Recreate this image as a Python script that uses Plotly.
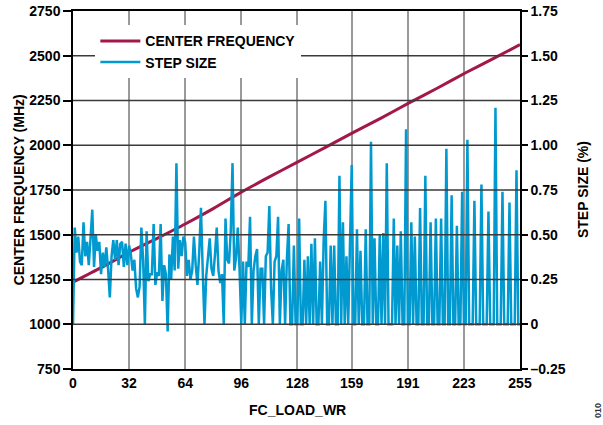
import plotly.graph_objects as go

# ---------------- data ----------------
fc_load_wr = list(range(256))

step_size_pct = [
    0.00, 0.54, 0.40, 0.49, 0.35, 0.33, 0.57, 0.38, 0.46, 0.33,
    0.48, 0.64, 0.32, 0.50, 0.41, 0.46, 0.28, 0.40, 0.32, 0.43,
    0.31, 0.15, 0.38, 0.47, 0.36, 0.47, 0.33, 0.45, 0.46, 0.32,
    0.45, 0.33, 0.44, 0.39, 0.30, 0.36, 0.20, 0.15, 0.21, 0.54,
    0.36, 0.00, 0.52, 0.24, 0.28, 0.28, 0.56, 0.22, 0.29, 0.27,
    0.56, 0.13, 0.33, 0.28, -0.04, 0.39, 0.25, 0.49, 0.30, 0.90,
    0.31, 0.47, 0.38, 0.49, 0.46, 0.27, 0.36, 0.25, 0.30, 0.49,
    0.33, 0.22, 0.40, 0.65, 0.30, 0.00, 0.27, 0.36, 0.48, 0.31,
    0.27, 0.39, 0.54, 0.30, 0.23, 0.28, 0.00, 0.59, 0.36, 0.34,
    0.52, 0.90, 0.30, 0.37, 0.54, 0.31, 0.00, 0.35, 0.00, 0.35,
    0.32, 0.60, 0.00, 0.30, 0.38, 0.42, 0.00, 0.31, 0.31, 0.00,
    0.38, 0.40, 0.66, 0.20, 0.00, 0.35, 0.38, 0.60, 0.00, 0.30,
    0.36, 0.00, 0.36, 0.56, 0.00, 0.00, 0.44, 0.00, 0.00, 0.59,
    0.00, 0.00, 0.36, 0.00, 0.38, 0.00, 0.45, 0.00, 0.48, 0.00,
    0.00, 0.35, 0.00, 0.47, 0.69, 0.00, 0.00, 0.44, 0.00, 0.44,
    0.00, 0.00, 0.83, 0.00, 0.57, 0.00, 0.38, 0.00, 0.46, 0.89,
    0.00, 0.00, 0.53, 0.00, 0.41, 0.00, 0.00, 0.53, 0.00, 0.00,
    1.02, 0.00, 0.48, 0.00, 0.00, 0.50, 0.00, 0.51, 0.00, 0.90,
    0.00, 0.00, 0.00, 0.59, 0.00, 0.44, 0.00, 0.52, 0.00, 0.00,
    1.09, 0.00, 0.00, 0.57, 0.00, 0.49, 0.00, 0.00, 0.65, 0.00,
    0.00, 0.83, 0.00, 0.00, 0.57, 0.00, 0.00, 0.59, 0.00, 0.00,
    0.59, 0.00, 0.00, 0.98, 0.00, 0.00, 0.72, 0.00, 0.00, 0.55,
    0.00, 0.00, 0.74, 0.00, 0.00, 1.03, 0.00, 0.00, 0.00, 0.69,
    0.00, 0.00, 0.00, 0.78, 0.00, 0.00, 0.00, 0.63, 0.00, 0.00,
    0.00, 1.21, 0.00, 0.00, 0.00, 0.74, 0.00, 0.00, 0.00, 0.68,
    0.00, 0.00, 0.00, 0.86, 0.00, 0.00,
]

cf_code = [0, 16, 32, 48, 64, 80, 96, 112, 128, 144, 160, 176, 192, 208, 224, 240, 255]
cf_mhz = [1235, 1316, 1402, 1480, 1560, 1646, 1738, 1823, 1906, 1988,
          2072, 2153, 2238, 2320, 2405, 2485, 2562]

x_tickvals = [0, 32, 64, 96, 128, 159, 191, 223, 255]
x_ticktext = ["0", "32", "64", "96", "128", "159", "191", "223", "255"]
y_tickvals = [750, 1000, 1250, 1500, 1750, 2000, 2250, 2500, 2750]
y2_tickvals = [-0.25, 0, 0.25, 0.50, 0.75, 1.00, 1.25, 1.50, 1.75]
y2_ticktext = ["\u20130.25", "0", "0.25", "0.50", "0.75", "1.00", "1.25", "1.50", "1.75"]

# ---------------- styling ----------------
RED = "#A3184A"
BLUE = "#009AD0"
FONT = "Liberation Sans, Arial, sans-serif"
bold = dict(family=FONT, size=14, color="black", weight=700)

fig = go.Figure()
fig.add_trace(go.Scatter(x=cf_code, y=cf_mhz, name="CENTER FREQUENCY", mode="lines",
                         line=dict(color=RED, width=3, shape="spline", smoothing=0.6),
                         yaxis="y"))
fig.add_trace(go.Scatter(x=fc_load_wr, y=step_size_pct, name="STEP SIZE", mode="lines",
                         line=dict(color=BLUE, width=2.5), yaxis="y2"))

shapes = []
for v in y_tickvals[1:-1]:
    shapes.append(dict(type="line", xref="paper", x0=0, x1=1, yref="y", y0=v, y1=v,
                       line=dict(color="#3a3a3a", width=1.5), layer="above"))

fig.update_layout(
    width=603, height=425,
    margin=dict(l=73, r=83, t=11, b=56, autoexpand=False),
    paper_bgcolor="white", plot_bgcolor="white",
    font=bold,
    showlegend=True,
    legend=dict(x=0.05, y=0.96, xanchor="left", yanchor="top",
                bgcolor="white", borderwidth=0, font=bold,
                itemwidth=40, tracegroupgap=0),
    xaxis=dict(range=[0, 255], tickvals=x_tickvals, ticktext=x_ticktext,
               showgrid=True, gridcolor="#9a9a9a", gridwidth=1.5,
               showline=True, linecolor="black", linewidth=1.5, mirror=True,
               ticks="", tickfont=bold, zeroline=False, automargin=False),
    yaxis=dict(range=[750, 2750], tickvals=y_tickvals, showgrid=False,
               showline=True, linecolor="black", linewidth=1.5,
               ticks="outside", ticklen=8, tickcolor="black", tickwidth=1.5,
               tickfont=bold, zeroline=False, automargin=False),
    yaxis2=dict(range=[-0.25, 1.75], tickvals=y2_tickvals, ticktext=y2_ticktext,
                overlaying="y", side="right", showgrid=False,
                showline=True, linecolor="black", linewidth=1.5,
                ticks="outside", ticklen=6, tickcolor="black", tickwidth=1.5,
                tickfont=bold, zeroline=False, automargin=False),
    shapes=shapes,
    annotations=[
        dict(text="CENTER FREQUENCY (MHz)", xref="paper", yref="paper", x=-0.12, y=0.5,
             textangle=-90, showarrow=False, font=bold, xanchor="center", yanchor="middle"),
        dict(text="STEP SIZE (%)", xref="paper", yref="paper", x=1.141, y=0.5,
             textangle=-90, showarrow=False, font=bold, xanchor="center", yanchor="middle"),
        dict(text="FC_LOAD_WR", xref="paper", yref="paper", x=0.503, y=-0.1145,
             showarrow=False, font=bold, xanchor="center", yanchor="middle"),
        dict(text="010", xref="paper", yref="paper", x=1.174, y=-0.115,
             textangle=-90, showarrow=False,
             font=dict(family=FONT, size=9, color="#333333"),
             xanchor="center", yanchor="middle"),
    ],
)

fig.write_html("out.html", config={"displayModeBar": False},
               post_script="document.body.style.margin='0';")
